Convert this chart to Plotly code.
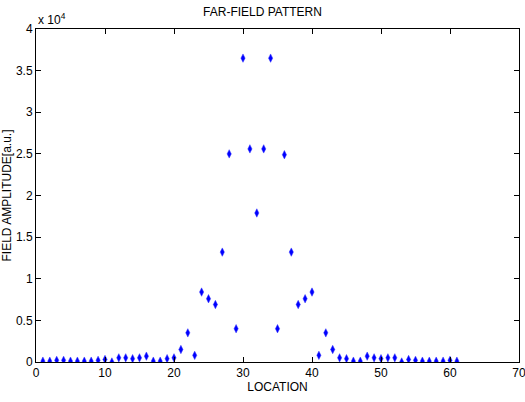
import plotly.graph_objects as go

location = list(range(1, 62))
amplitude = [
    0.01, 0.01, 0.02, 0.02, 0.01, 0.01, 0.01, 0.01, 0.02, 0.03,  # 1-10
    0.00, 0.05, 0.05, 0.04, 0.05, 0.07, 0.01, 0.01, 0.04, 0.05,  # 11-20
    0.15, 0.35, 0.08, 0.84, 0.76, 0.69, 1.32, 2.50, 0.40, 3.65,  # 21-30
    2.56, 1.79, 2.56, 3.65, 0.40, 2.49, 1.32, 0.69, 0.76, 0.84,  # 31-40
    0.08, 0.35, 0.15, 0.05, 0.04, 0.01, 0.01, 0.07, 0.05, 0.04,  # 41-50
    0.05, 0.05, 0.00, 0.03, 0.02, 0.01, 0.01, 0.01, 0.01, 0.02,  # 51-60
    0.01,                                                          # 61
]
amplitude = [v * 1e4 for v in amplitude]

y_ticks = [0, 0.5, 1, 1.5, 2, 2.5, 3, 3.5, 4]
y_tick_labels = ["0", "0.5", "1", "1.5", "2", "2.5", "3", "3.5", "4"]
x_ticks = [0, 10, 20, 30, 40, 50, 60, 70]

FONT = "Liberation Sans Narrow, Liberation Sans, Arial, sans-serif"

fig = go.Figure()
fig.add_trace(go.Scatter(
    x=location, y=amplitude, mode="markers",
    marker=dict(symbol="diamond-tall", size=6, color="#0000ff",
                line=dict(color="#3333ff", width=0.5)),
    showlegend=False,
))

axis_common = dict(
    showline=True, linecolor="black", linewidth=1, mirror="ticks",
    ticks="inside", ticklen=5, tickcolor="black", showgrid=False,
    zeroline=False, automargin=False, ticklabeloverflow="allow",
    tickfont=dict(family=FONT, size=12, color="black"),
)
fig.update_layout(
    width=525, height=402,
    margin=dict(l=36, r=6, t=29, b=40),
    paper_bgcolor="white", plot_bgcolor="white",
    font=dict(family=FONT, color="black"),
    title=dict(text="FAR-FIELD PATTERN", x=0.5, xanchor="center",
               y=0.98, yanchor="top", font=dict(family=FONT, size=12)),
    xaxis=dict(range=[0, 70], tickvals=x_ticks,
               title=dict(text="LOCATION", font=dict(family=FONT, size=12), standoff=2),
               **axis_common),
    yaxis=dict(range=[0, 4e4], tickvals=[t * 1e4 for t in y_ticks], ticktext=y_tick_labels,
               title=dict(text="FIELD AMPLITUDE[a.u.]", font=dict(family=FONT, size=12), standoff=4),
               **axis_common),
    annotations=[dict(text="x 10<sup>4</sup>", xref="paper", yref="paper", x=0, y=1,
                      xanchor="left", yanchor="bottom", showarrow=False,
                      font=dict(family=FONT, size=12), xshift=0, yshift=0)],
)
fig.write_html("out.html")
